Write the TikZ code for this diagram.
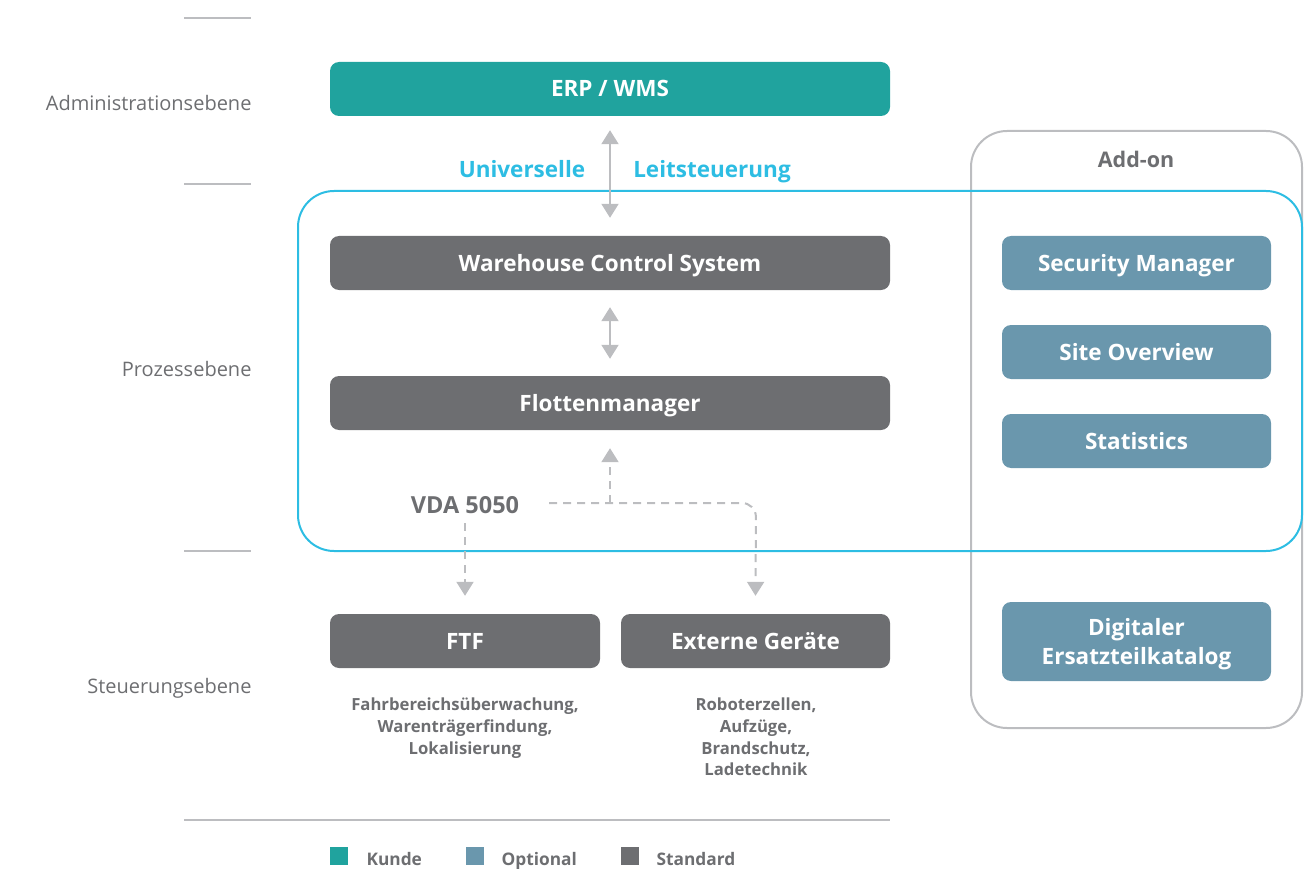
\documentclass[tikz,border=0pt]{standalone}
\usepackage{fontspec}
\setmainfont{Open Sans}
\usetikzlibrary{arrows.meta}
\definecolor{teal}{HTML}{20A39E}
\definecolor{dgray}{HTML}{6D6E71}
\definecolor{opt}{HTML}{6A97AD}
\definecolor{cyanc}{HTML}{2DBDE3}
\definecolor{lgray}{HTML}{BCBDC0}
\definecolor{lbl}{HTML}{6D6E71}
\tikzset{
  box/.style={rectangle, rounded corners=9pt, minimum height=54pt, inner sep=0pt, text=white, font=\bfseries\fontsize{22.5}{29}\selectfont, align=center, text depth=0pt},
  one/.style={text height=16pt},
  std/.style={box, one, fill=dgray},
  optb/.style={box, fill=opt, minimum width=269pt},
  kunde/.style={box, one, fill=teal},
  lvl/.style={anchor=base east, text=lbl, font=\fontsize{20}{24}\selectfont},
  sep/.style={draw=lgray, line width=1.6pt},
  dbl/.style={draw=lgray, line width=2pt, {Triangle[width=17pt,length=14pt]}-{Triangle[width=17pt,length=14pt]}},
  dsh/.style={draw=lgray, line width=2pt, dash pattern=on 8pt off 6pt},
  tip/.style={-{Triangle[width=17pt,length=14pt]}},
  sub/.style={text=lbl, font=\bfseries\fontsize{16.7}{21.7}\selectfont, align=center, anchor=north},
  leg/.style={anchor=base west, text=lbl, font=\bfseries\fontsize{17.3}{20}\selectfont},
  hl/.style={anchor=base, font=\bfseries\fontsize{22.5}{27}\selectfont},
}
\begin{document}
\begin{tikzpicture}[x=1pt,y=-1pt]
\useasboundingbox (0,0) rectangle (1309,869);
% level separators
\draw[sep] (184,18) -- (251,18);
\draw[sep] (184,184) -- (251,184);
\draw[sep] (184,551) -- (251,551);
\draw[sep] (184,820) -- (890,820);
\node[lvl] (l1) at (255,111) {Administrationsebene};
\node[lvl] (l2) at (255,376) {Prozessebene};
\node[lvl] (l3) at (255,693) {Steuerungsebene};
% containers
\node[draw=lgray, line width=2pt, rounded corners=36pt, minimum width=331pt, minimum height=597pt, inner sep=0pt] (addon) at (1136.5,429.5) {};
\node[hl, text=lbl, font=\bfseries\fontsize{21.5}{26}\selectfont] (addonl) at (1136,168) {Add-on};
\node[draw=cyanc, line width=2pt, rounded corners=36pt, minimum width=1004pt, minimum height=360pt, inner sep=0pt] (proc) at (800,371) {};
% boxes
\node[kunde, minimum width=560pt] (erp) at (610,89) {ERP / WMS};
\node[std, minimum width=560pt] (wcs) at (610,263) {Warehouse Control System};
\node[std, minimum width=560pt] (flm) at (610,403) {Flottenmanager};
\node[std, minimum width=270pt] (ftf) at (465,641) {FTF};
\node[std, minimum width=269pt] (ext) at (755.5,641) {Externe Geräte};
\node[optb, one] (sec) at (1136.5,263) {Security Manager};
\node[optb, one] (site) at (1136.5,352) {Site Overview};
\node[optb, one] (stat) at (1136.5,441) {Statistics};
\node[optb, minimum height=79pt] (cat) at (1136.5,641.5) {Digitaler\\Ersatzteilkatalog};
% labels
\node[hl, text=cyanc] (uni) at (522,178) {Universelle};
\node[hl, text=cyanc] (leit) at (712,178) {Leitsteuerung};
\node[hl, text=lbl, font=\bfseries\fontsize{23.5}{27}\selectfont] (vda) at (465,513) {VDA 5050};
% solid arrows
\draw[dbl] ([yshift=-14pt]erp.south) -- ([yshift=18pt]wcs.north);
\draw[dbl] ([yshift=-17pt]wcs.south) -- ([yshift=17pt]flm.north);
% dashed connectors
\coordinate (j) at (610,503);
\coordinate (hs) at (549,503);
\coordinate (he) at (756,503);
\coordinate (vs) at (465,523);
\draw[dsh, tip] (j) -- ([yshift=-18pt]flm.south);
\draw[dsh, tip, rounded corners=14pt] (hs) -- (he) -- ([yshift=18pt]ext.north);
\draw[dsh, tip] (vs) -- ([yshift=18pt]ftf.north);
% sub texts
\node[sub] (ftft) at (465,694.5) {Fahrbereichsüberwachung,\\Warenträgerfindung,\\Lokalisierung};
\node[sub] (extt) at (756,694.5) {Roboterzellen,\\Aufzüge,\\Brandschutz,\\Ladetechnik};
% legend
\node[fill=teal, minimum size=18pt, inner sep=0pt] (k1) at (339,856) {};
\node[leg] (k1t) at (363,865) {Kunde};
\node[fill=opt, minimum size=18pt, inner sep=0pt] (k2) at (475,856) {};
\node[leg] (k2t) at (498,865) {Optional};
\node[fill=dgray, minimum size=18pt, inner sep=0pt] (k3) at (630,856) {};
\node[leg] (k3t) at (653,865) {Standard};
\end{tikzpicture}
\end{document}
